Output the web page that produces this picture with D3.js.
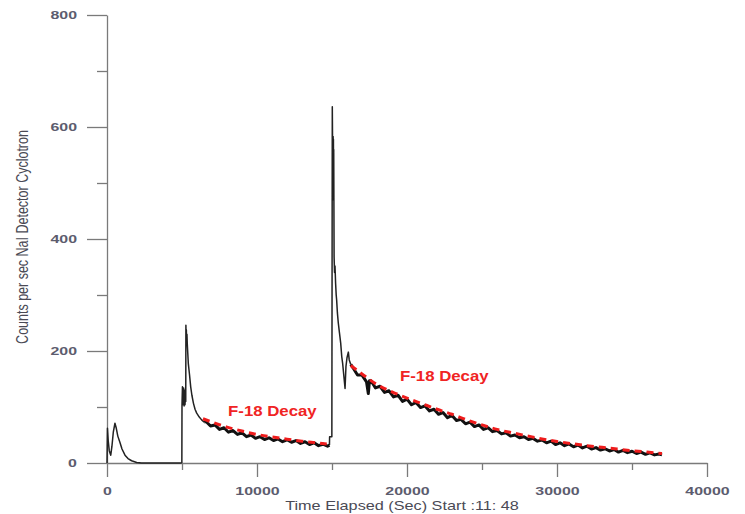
<!DOCTYPE html>
<html>
<head>
<meta charset="utf-8">
<script src="https://cdn.jsdelivr.net/npm/d3@7"></script>
<style>
  body { margin: 0; background: #fff; }
  svg { display: block; }
  .axis path, .axis line { stroke: #7a7a7a; stroke-width: 1.3; }
  .axis text { font-family: "Liberation Sans", Arial, sans-serif; font-size: 11px; font-weight: bold; fill: #5c5c6e; }
</style>
</head>
<body>
<script>
var width = 745,
    height = 514;

// tick values
var yMajorTicks = [0, 200, 400, 600, 800],
    yMinorTicks = [100, 300, 500, 700],
    xMajorTicks = [0, 10000, 20000, 30000, 40000],
    xMinorTicks = [5000, 15000, 25000, 35000];

// counts per sec: [seconds, counts]
var firstRun = [
  [0, 0], [30, 62], [80, 40], [150, 22], [250, 14], [330, 30], [420, 55], [530, 71],
  [620, 62], [720, 48], [870, 36], [1000, 25], [1200, 14], [1400, 8], [1640, 4],
  [1980, 1], [2300, 0], [4980, 0]
];

var secondRunPeak = [
  [4990, 0], [5000, 104], [5030, 136], [5050, 104], [5070, 132], [5090, 106], [5110, 134],
  [5140, 102], [5170, 130], [5200, 104], [5230, 128], [5250, 110], [5260, 246], [5280, 214],
  [5290, 238], [5310, 210], [5330, 230], [5350, 214], [5420, 178], [5500, 158],
  [5580, 136], [5660, 121], [5760, 107], [5870, 96], [5980, 89], [6150, 82], [6310, 77],
  [6480, 73]
];

var secondRunTail = [
  [6480, 73], [6600, 74], [6900, 66], [7200, 68], [7500, 60], [7800, 63], [8100, 55],
  [8400, 58], [8700, 51], [9000, 54], [9300, 47], [9600, 50], [9900, 44], [10200, 47],
  [10500, 42], [10800, 45], [11100, 40], [11400, 43], [11700, 38], [12000, 41.5],
  [12300, 37], [12600, 40], [12900, 35], [13200, 38], [13500, 33], [13800, 36],
  [14100, 31], [14400, 33.5], [14700, 30], [14830, 32]
];

var thirdRunPeak = [
  [14830, 32], [14840, 47], [14990, 47], [15020, 636], [15035, 583], [15045, 470],
  [15055, 583], [15065, 475], [15075, 583], [15085, 470], [15095, 578], [15105, 480],
  [15115, 560], [15140, 368], [15170, 340], [15200, 352], [15240, 321], [15280, 300],
  [15310, 291], [15360, 268], [15420, 250], [15500, 232], [15580, 214], [15650, 190],
  [15710, 178], [15780, 158], [15870, 133], [15930, 172], [16000, 188], [16090, 198],
  [16150, 184], [16250, 176]
];

var thirdRunTail = [
  [16250, 176], [16400, 170], [16700, 157], [17000, 157], [17300, 145], [17420, 124], [17500, 147],
  [17600, 147], [17900, 134], [18200, 137], [18500, 126], [18800, 129], [19100, 118],
  [19400, 121], [19700, 110], [20000, 114], [20300, 104], [20600, 108], [20900, 99],
  [21200, 102], [21500, 93], [21800, 96], [22100, 87], [22400, 90], [22700, 81],
  [23000, 85], [23300, 76], [23600, 78], [23900, 70], [24200, 73], [24500, 65],
  [24800, 68], [25100, 60], [25400, 63], [25700, 56], [26000, 58], [26300, 52],
  [26600, 54], [26900, 48], [27200, 50], [27500, 45], [27800, 47], [28100, 42],
  [28400, 44], [28700, 39], [29000, 41], [29300, 36], [29600, 39], [29900, 33],
  [30200, 36], [30500, 31], [30800, 34], [31100, 29], [31400, 32], [31700, 27],
  [32000, 30], [32300, 25], [32600, 27.5], [32900, 23], [33200, 25.5], [33500, 21.5],
  [33800, 24], [34100, 19.5], [34400, 22.5], [34700, 18.5], [35000, 21], [35300, 17],
  [35600, 19.5], [35900, 15.5], [36200, 18], [36500, 14.5], [36800, 16], [37000, 14.5]
];

// F-18 decay fits (red dashed)
var fitFirst = [
  [6400, 79], [7000, 73], [8000, 64], [9000, 57], [10000, 51], [11000, 46.5],
  [12000, 42.5], [13000, 39], [14000, 36], [14650, 34]
];

var fitSecond = [
  [16250, 174], [17000, 159], [18000, 140], [19000, 127], [20000, 116], [21000, 106],
  [22000, 96], [23000, 87], [24000, 77], [25000, 68], [26000, 60], [27000, 54],
  [28000, 48.5], [29000, 43], [30000, 38.5], [31000, 34.5], [32000, 31], [33000, 28],
  [34000, 25], [35000, 22], [36000, 19.5], [37000, 17]
];

var fitLabel = "F-18 Decay";

var x = d3.scaleLinear()
    .domain([0, 40000])
    .range([107, 707]);

var y = d3.scaleLinear()
    .domain([0, 800])
    .range([463, 15]);

var svg = d3.select("body").append("svg")
    .attr("width", width)
    .attr("height", height);

// minor ticks first, then majors with labels
svg.append("g")
    .attr("class", "axis")
    .attr("transform", "translate(107,0)")
    .call(d3.axisLeft(y).tickValues(yMinorTicks).tickSize(10).tickFormat(""))
    .call(function(g) { g.select(".domain").remove(); });

var yAxis = svg.append("g")
    .attr("class", "axis")
    .attr("transform", "translate(107,0)")
    .call(d3.axisLeft(y).tickValues(yMajorTicks).tickSize(20).tickSizeOuter(0).tickFormat(d3.format("d")));

yAxis.selectAll("text")
    .attr("x", 0)
    .attr("transform", "translate(-30,0) scale(1.45,1)");

svg.append("g")
    .attr("class", "axis")
    .attr("transform", "translate(0,463)")
    .call(d3.axisBottom(x).tickValues(xMinorTicks).tickSize(7).tickFormat(""))
    .call(function(g) { g.select(".domain").remove(); });

var xAxis = svg.append("g")
    .attr("class", "axis")
    .attr("transform", "translate(0,463)")
    .call(d3.axisBottom(x).tickValues(xMajorTicks).tickSize(14).tickSizeOuter(0).tickFormat(d3.format("d")));

xAxis.selectAll("text")
    .attr("y", 0)
    .attr("dy", "0.32em")
    .attr("transform", "translate(0,28) scale(1.45,1)");

// axis titles (source image is stretched sideways a bit)
svg.append("text")
    .attr("transform", "translate(402,510) scale(1.3,1)")
    .attr("text-anchor", "middle")
    .style("font-family", "Liberation Sans, Arial, sans-serif")
    .style("font-size", "12.5px")
    .style("fill", "#4a4a55")
    .text("Time Elapsed (Sec) Start :11: 48");

svg.append("text")
    .attr("transform", "translate(28,237) scale(1.3,1) rotate(-90)")
    .attr("text-anchor", "middle")
    .style("font-family", "Liberation Sans, Arial, sans-serif")
    .style("font-size", "12.5px")
    .style("fill", "#4a4a55")
    .text("Counts per sec NaI Detector Cyclotron");

var line = d3.line()
    .x(function(d) { return x(d[0]); })
    .y(function(d) { return y(d[1]); });

var fitLine = d3.line()
    .curve(d3.curveMonotoneX)
    .x(function(d) { return x(d[0]); })
    .y(function(d) { return y(d[1]); });

// thin trace for the bursts, heavier for the noisy decay tails
[firstRun, secondRunPeak, thirdRunPeak].forEach(function(run) {
  svg.append("path")
      .datum(run)
      .attr("fill", "none")
      .attr("stroke", "#222")
      .attr("stroke-width", 1.5)
      .attr("stroke-linejoin", "round")
      .attr("d", line);
});

[secondRunTail, thirdRunTail].forEach(function(run) {
  svg.append("path")
      .datum(run)
      .attr("fill", "none")
      .attr("stroke", "#111")
      .attr("stroke-width", 3)
      .attr("stroke-linejoin", "round")
      .attr("d", line);
});

[fitFirst, fitSecond].forEach(function(fit) {
  svg.append("path")
      .datum(fit)
      .attr("fill", "none")
      .attr("stroke", "#ee1c1c")
      .attr("stroke-width", 3)
      .attr("stroke-dasharray", "7,5")
      .attr("d", fitLine);
});

// labels next to each fit
[[8070, 84], [19530, 146]].forEach(function(p) {
  svg.append("text")
      .attr("transform", "translate(" + x(p[0]) + "," + y(p[1]) + ") scale(1.2,1)")
      .style("font-family", "Liberation Sans, Arial, sans-serif")
      .style("font-size", "14px")
      .style("font-weight", "bold")
      .style("fill", "#f02424")
      .text(fitLabel);
});
</script>
</body>
</html>
